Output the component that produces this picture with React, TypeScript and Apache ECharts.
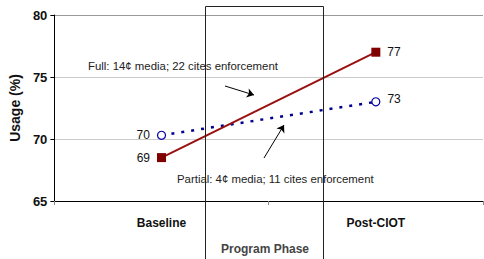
import React, { useEffect, useRef } from "react";
import * as echarts from "echarts";

const categories = ["Baseline", "Post-CIOT"];
const fullValues = [68.5, 77.0];
const partialValues = [70.3, 73.0];
const fullLabels = ["69", "77"];
const partialLabels = ["70", "73"];
const yTicks = { min: 65, max: 80, interval: 5 };

const FONT = "Liberation Sans, Arial, sans-serif";

export default function App() {
  const ref = useRef<HTMLDivElement>(null);
  useEffect(() => {
    document.body.style.margin = "0";
    const chart = echarts.init(ref.current!, null, { renderer: "svg" });
    chart.setOption({
      animation: false,
      textStyle: { fontFamily: FONT },
      grid: { left: 47, right: 1, top: 15, bottom: 58 },
      xAxis: {
        type: "category",
        data: categories,
        boundaryGap: true,
        axisLine: { lineStyle: { color: "#000", width: 1 } },
        axisTick: { show: true, length: 4, lineStyle: { color: "#888" } },
        axisLabel: { fontWeight: "bold", fontSize: 12, color: "#111", margin: 16, fontFamily: FONT },
      },
      yAxis: {
        type: "value",
        min: yTicks.min,
        max: yTicks.max,
        interval: yTicks.interval,
        name: "Usage (%)",
        nameLocation: "middle",
        nameGap: 25,
        nameTextStyle: { fontWeight: "bold", fontSize: 14, color: "#111", fontFamily: FONT },
        axisLine: { show: true, lineStyle: { color: "#000", width: 1 } },
        axisTick: { show: true, length: 4, lineStyle: { color: "#000" } },
        axisLabel: { fontWeight: "bold", fontSize: 13, color: "#111", margin: 7, fontFamily: FONT },
        splitLine: { show: true, lineStyle: { color: ["#ccc", "#ccc", "#ccc", "#999"], width: 1 } },
      },
      series: [
        {
          name: "Full",
          type: "line",
          data: fullValues.map((v, i) => ({
            value: v,
            label: {
              show: true,
              formatter: fullLabels[i],
              position: i === 0 ? "left" : "right",
              distance: 7,
              fontSize: 12,
              color: "#111",
              fontFamily: FONT,
            },
          })),
          symbol: "rect",
          symbolSize: 9,
          itemStyle: { color: "#800000" },
          lineStyle: { color: "#9a1010", width: 2 },
          z: 3,
          markLine: {
            silent: true,
            animation: false,
            symbol: ["none", "arrow"],
            symbolSize: 7,
            label: { show: false },
            lineStyle: { color: "#000", width: 1, type: "solid" },
            data: [
              [
                { x: 225, y: 86 },
                { x: 254, y: 95 },
              ],
              [
                { x: 264, y: 158 },
                { x: 284, y: 125 },
              ],
            ],
          },
        },
        {
          name: "Partial",
          type: "line",
          data: partialValues.map((v, i) => ({
            value: v,
            label: {
              show: true,
              formatter: partialLabels[i],
              position: i === 0 ? "left" : "right",
              distance: 7,
              fontSize: 12,
              color: "#111",
              fontFamily: FONT,
              offset: i === 0 ? [0, 0] : [0, -3],
            },
          })),
          symbol: "circle",
          symbolSize: 8,
          itemStyle: { color: "#fff", borderColor: "#0000a0", borderWidth: 1.2 },
          lineStyle: { color: "#000090", width: 2.5, type: [3, 7] },
          z: 2,
        },
      ],
      graphic: [
        {
          type: "rect",
          shape: { x: 205.5, y: 6.5, width: 118, height: 260 },
          style: { fill: "none", stroke: "#222", lineWidth: 1 },
          z: 10,
          silent: true,
        },
        {
          type: "text",
          x: 265,
          y: 249,
          style: {
            text: "Program Phase",
            fill: "#444",
            font: "bold 12px " + FONT,
            align: "center",
            verticalAlign: "middle",
          },
        },
        {
          type: "text",
          x: 88,
          y: 66,
          style: {
            text: "Full: 14¢ media; 22 cites enforcement",
            fill: "#222",
            font: "11.4px " + FONT,
            align: "left",
            verticalAlign: "middle",
          },
        },
        {
          type: "text",
          x: 177,
          y: 179,
          style: {
            text: "Partial: 4¢ media; 11 cites enforcement",
            fill: "#222",
            font: "11.4px " + FONT,
            align: "left",
            verticalAlign: "middle",
          },
        },
      ],
    });
    return () => chart.dispose();
  }, []);
  return (
    <div
      ref={ref}
      style={{ position: "absolute", left: 0, top: 0, width: 484, height: 259 }}
    />
  );
}
